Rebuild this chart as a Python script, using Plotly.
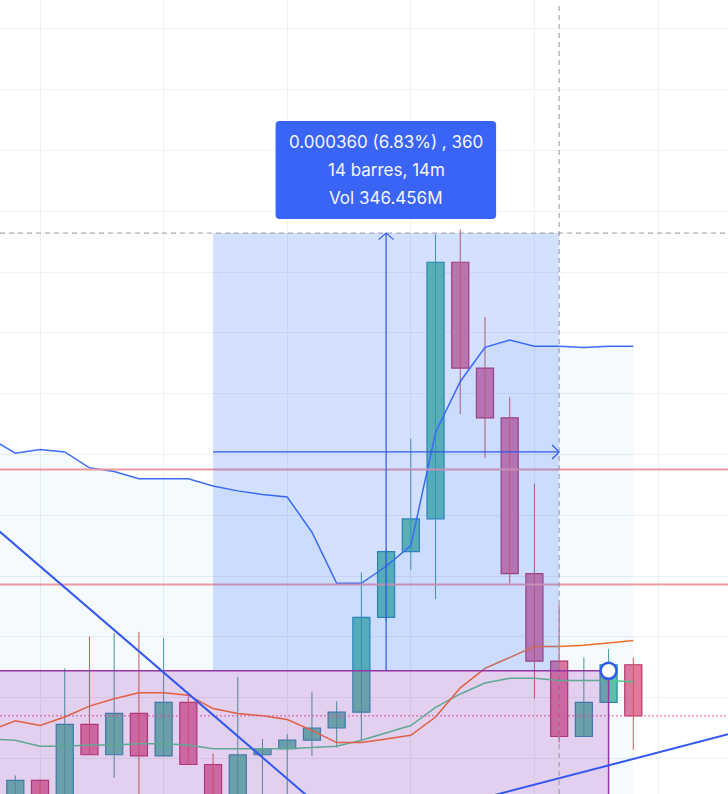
import plotly.graph_objects as go

W, H = 728, 794

# ---- candle data (1-minute bars) ----
bar_index = list(range(26))
open_ = [0.005166, 0.005182, 0.005168, 0.005228, 0.005203, 0.005237, 0.005202, 0.005246, 0.005195, 0.005165,
         0.005203, 0.005208, 0.005215, 0.005225, 0.005238, 0.005316, 0.005370, 0.005397, 0.005608, 0.005521,
         0.005480, 0.005352, 0.005280, 0.005218, 0.005246, 0.005277]
high = [0.005186, 0.005183, 0.005274, 0.005300, 0.005303, 0.005304, 0.005299, 0.005251, 0.005204, 0.005267,
        0.005216, 0.005220, 0.005255, 0.005247, 0.005353, 0.005372, 0.005463, 0.005631, 0.005635, 0.005563,
        0.005497, 0.005426, 0.005326, 0.005283, 0.005290, 0.005283]
low = [0.005160, 0.005155, 0.005160, 0.005203, 0.005184, 0.005158, 0.005202, 0.005195, 0.005155, 0.005160,
       0.005160, 0.005160, 0.005202, 0.005209, 0.005214, 0.005313, 0.005355, 0.005331, 0.005483, 0.005447,
       0.005344, 0.005249, 0.005213, 0.005218, 0.005246, 0.005207]
close = [0.005182, 0.005165, 0.005228, 0.005203, 0.005237, 0.005202, 0.005246, 0.005195, 0.005162, 0.005203,
         0.005208, 0.005215, 0.005225, 0.005238, 0.005316, 0.005370, 0.005397, 0.005608, 0.005521, 0.005480,
         0.005352, 0.005280, 0.005218, 0.005246, 0.005277, 0.005235]

# ---- indicator data (starts one bar before the first visible candle) ----
ind_index = list(range(-1, 26))
band_upper = [0.005463, 0.005451, 0.005454, 0.005452, 0.005439, 0.005436, 0.005430, 0.005430, 0.005430,
              0.005424, 0.005420, 0.005417, 0.005415, 0.005386, 0.005344, 0.005344, 0.005358, 0.005375,
              0.005468, 0.005510, 0.005538, 0.005544, 0.005539, 0.005539, 0.005538, 0.005539, 0.005539]
ma_orange = [0.005223, 0.005231, 0.005227, 0.005234, 0.005243, 0.005249, 0.005254, 0.005254, 0.005252,
             0.005241, 0.005237, 0.005235, 0.005232, 0.005223, 0.005213, 0.005213, 0.005216, 0.005219,
             0.005234, 0.005258, 0.005274, 0.005283, 0.005292, 0.005292, 0.005293, 0.005295, 0.005297]
ma_green = [0.005216, 0.005215, 0.005210, 0.005210, 0.005211, 0.005211, 0.005212, 0.005212, 0.005211,
            0.005208, 0.005208, 0.005208, 0.005208, 0.005209, 0.005210, 0.005215, 0.005221, 0.005227,
            0.005242, 0.005253, 0.005262, 0.005266, 0.005266, 0.005264, 0.005264, 0.005264, 0.005263]

# ---- drawings ----
levels = [0.0054376, 0.0053430]
last_price = close[-1]
measure_from, measure_to = 8, 22
measure_low, measure_high = 0.005272, 0.005632
tooltip_lines = ["0.000360 (6.83%) , 360", "14 barres, 14m", "Vol 346.456M"]
zone_top, zone_right = 0.005272, 24
trend_a_x, trend_a_y = [-1, 13], [0.005393, 0.0051483]
trend_b_x, trend_b_y = [19, 29], [0.0051678, 0.0052207]

X_RANGE = [-0.619, 28.831]
Y_RANGE = [0.00517072, 0.00582368]
PX = (X_RANGE[1] - X_RANGE[0]) / W   # data units per pixel (x)
PY = (Y_RANGE[1] - Y_RANGE[0]) / H   # data units per pixel (y)

UP_FILL, UP_LINE, UP_WICK = "#64c1a6", "#2e8aa6", "#3f9e98"
DN_FILL, DN_LINE, DN_WICK = "#e2789c", "#be3264", "#d45555"

fig = go.Figure()

# pale band fill
fig.add_trace(go.Scatter(x=ind_index, y=band_upper, mode="lines", line=dict(width=0),
                         fill="tozeroy", fillcolor="rgba(33,150,243,0.05)", hoverinfo="skip"))

# wicks
for up in (True, False):
    xs, ys = [], []
    for i, o, h, l, c in zip(bar_index, open_, high, low, close):
        if (c >= o) == up:
            xs += [i, i, None]
            ys += [l, h, None]
    fig.add_trace(go.Scatter(x=xs, y=ys, mode="lines",
                             line=dict(color=UP_WICK if up else DN_WICK, width=1), hoverinfo="skip"))

# bodies
fig.add_trace(go.Bar(
    x=bar_index,
    y=[abs(c - o) for o, c in zip(open_, close)],
    base=[min(o, c) for o, c in zip(open_, close)],
    width=0.69,
    marker=dict(color=[UP_FILL if c >= o else DN_FILL for o, c in zip(open_, close)],
                line=dict(color=[UP_LINE if c >= o else DN_LINE for o, c in zip(open_, close)], width=1.2)),
    hoverinfo="skip"))

# indicator lines
fig.add_trace(go.Scatter(x=ind_index, y=ma_green, mode="lines", line=dict(color="#50c88c", width=1.5)))
fig.add_trace(go.Scatter(x=ind_index, y=ma_orange, mode="lines", line=dict(color="#f26d28", width=1.5)))
fig.add_trace(go.Scatter(x=ind_index, y=band_upper, mode="lines", line=dict(color="#3d6cf4", width=1.5)))

shapes = []
for lv in levels:
    shapes.append(dict(type="line", xref="paper", x0=0, x1=1, yref="y", y0=lv, y1=lv,
                       line=dict(color="#ec9aa2", width=2), layer="above"))
shapes.append(dict(type="line", xref="paper", x0=0, x1=1, yref="y", y0=last_price, y1=last_price,
                   line=dict(color="#e25f90", width=1, dash="2px,2px"), layer="above"))
# measure box
shapes.append(dict(type="rect", xref="x", yref="y", x0=measure_from, x1=measure_to,
                   y0=measure_low, y1=measure_high, fillcolor="rgba(41,98,255,0.2)",
                   line=dict(width=0), layer="above"))
# purple zone
shapes.append(dict(type="rect", xref="x", yref="y", x0=X_RANGE[0] - 1, x1=zone_right,
                   y0=Y_RANGE[0] - 0.0001, y1=zone_top, fillcolor="rgba(156,39,176,0.2)",
                   line=dict(color="#9334a8", width=1.5), layer="above"))
# trend lines
for tx, ty in ((trend_a_x, trend_a_y), (trend_b_x, trend_b_y)):
    shapes.append(dict(type="line", xref="x", yref="y", x0=tx[0], x1=tx[1], y0=ty[0], y1=ty[1],
                       line=dict(color="#3457f2", width=2), layer="above"))
# measure arrows
mid_x = (measure_from + measure_to) / 2
mid_y = (measure_low + measure_high) / 2
AR = "#2f58e6"
shapes.append(dict(type="line", xref="x", yref="y", x0=mid_x, x1=mid_x, y0=measure_low, y1=measure_high,
                   line=dict(color=AR, width=1.2), layer="above"))
shapes.append(dict(type="path", xref="x", yref="y",
                   path=f"M {mid_x - 7.5*PX},{measure_high - 6.5*PY} L {mid_x},{measure_high} L {mid_x + 7.5*PX},{measure_high - 6.5*PY}",
                   line=dict(color=AR, width=1.2), layer="above"))
shapes.append(dict(type="line", xref="x", yref="y", x0=measure_from, x1=measure_to, y0=mid_y, y1=mid_y,
                   line=dict(color=AR, width=1.2), layer="above"))
shapes.append(dict(type="path", xref="x", yref="y",
                   path=f"M {measure_to - 7*PX},{mid_y + 7*PY} L {measure_to},{mid_y} L {measure_to - 7*PX},{mid_y - 7*PY}",
                   line=dict(color=AR, width=1.2), layer="above"))
# crosshair
shapes.append(dict(type="line", xref="x", yref="paper", x0=measure_to, x1=measure_to, y0=0, y1=0.993,
                   line=dict(color="#9598a1", width=1, dash="5px,4px"), layer="above"))
shapes.append(dict(type="line", xref="paper", yref="y", x0=0, x1=1, y0=measure_high, y1=measure_high,
                   line=dict(color="#9598a1", width=1, dash="5px,4px"), layer="above"))
# tooltip box (rounded)
tb_l, tb_r = mid_x - 110.5*PX, mid_x + 110*PX
tb_b, tb_t = measure_high + 14*PY, measure_high + 112*PY
r = 4
path = (f"M {tb_l + r*PX},{tb_t} L {tb_r - r*PX},{tb_t} Q {tb_r},{tb_t} {tb_r},{tb_t - r*PY} "
        f"L {tb_r},{tb_b + r*PY} Q {tb_r},{tb_b} {tb_r - r*PX},{tb_b} "
        f"L {tb_l + r*PX},{tb_b} Q {tb_l},{tb_b} {tb_l},{tb_b + r*PY} "
        f"L {tb_l},{tb_t - r*PY} Q {tb_l},{tb_t} {tb_l + r*PX},{tb_t} Z")
shapes.append(dict(type="path", xref="x", yref="y", path=path, fillcolor="#3a64f5",
                   line=dict(width=0), layer="above"))
# anchor handle
shapes.append(dict(type="circle", xref="x", yref="y", x0=zone_right - 8*PX, x1=zone_right + 8*PX,
                   y0=zone_top - 8*PY, y1=zone_top + 8*PY, fillcolor="white",
                   line=dict(color="#2f5be8", width=2.5), layer="above"))

annotations = []
for k, txt in enumerate(tooltip_lines):
    annotations.append(dict(x=mid_x, y=measure_high + (91 - 28*k)*PY, xref="x", yref="y",
                            text=txt, showarrow=False, xanchor="center", yanchor="middle",
                            font=dict(family="Inter, Roboto, sans-serif", size=17, color="#f4f6ff")))

fig.update_layout(
    width=W, height=H, margin=dict(l=0, r=0, t=0, b=0),
    paper_bgcolor="white", plot_bgcolor="white",
    showlegend=False, barmode="overlay", hovermode=False,
    shapes=shapes, annotations=annotations,
    xaxis=dict(range=X_RANGE, showticklabels=False, showgrid=True, gridcolor="#eef0f3", gridwidth=1,
               tick0=1, dtick=5, zeroline=False, showline=False, ticks=""),
    yaxis=dict(range=Y_RANGE, showticklabels=False, showgrid=True, gridcolor="#eef0f3", gridwidth=1,
               tick0=0, dtick=0.00005, zeroline=False, showline=False, ticks=""),
)

fig.write_html("out.html", config={"displayModeBar": False},
               post_script="document.body.style.margin='0';document.body.style.overflow='hidden';")
